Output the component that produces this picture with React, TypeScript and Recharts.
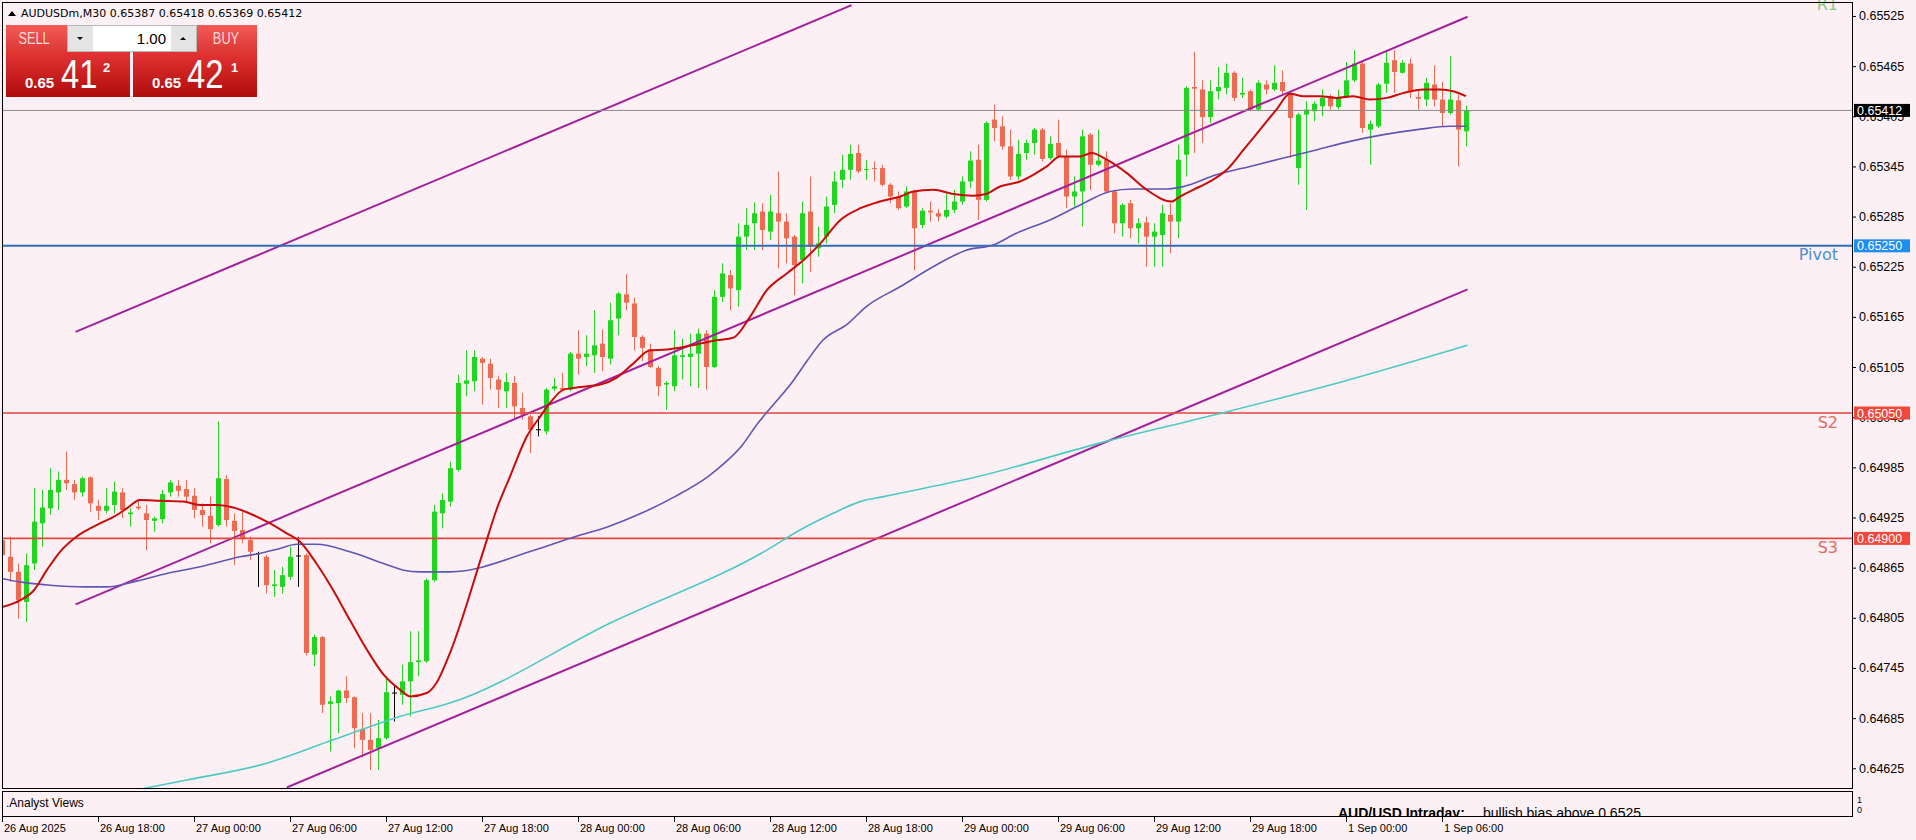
import { ComposedChart, Bar, Line, XAxis, YAxis, ReferenceLine } from "recharts";

const BG = "#fdf0f4";
const UP = "#1fd61f";
const DOWN = "#ee6a50";

// AUDUSDm M30 bars, 26 Aug 12:00 -> 1 Sep 07:30
const opens = [
  0.64898, 0.64878, 0.6486, 0.64824, 0.6487, 0.64918, 0.64936, 0.64955, 0.6497, 0.64965,
  0.64955, 0.64973, 0.64939, 0.64933, 0.6494, 0.64955, 0.64929, 0.64938, 0.6493, 0.64921,
  0.64923, 0.64955, 0.64963, 0.64959, 0.64951, 0.64934, 0.64927, 0.64916, 0.64971, 0.64921,
  0.6491, 0.64898, 0.64882, 0.64878, 0.64843, 0.64842, 0.64854, 0.64879, 0.6488, 0.64761,
  0.64782, 0.64702, 0.64703, 0.64718, 0.6471, 0.64672, 0.64659, 0.64649, 0.64661, 0.64715,
  0.64713, 0.64729, 0.64752, 0.64753, 0.6485, 0.6493, 0.64944, 0.64982, 0.65085, 0.65088,
  0.65115, 0.65109, 0.6509, 0.65076, 0.65086, 0.65056, 0.65046, 0.6503, 0.65028, 0.65079,
  0.6508, 0.65078, 0.65121, 0.65117, 0.65119, 0.65133, 0.65115, 0.65163, 0.65192, 0.65181,
  0.65141, 0.65126, 0.65104, 0.65084, 0.65082, 0.65117, 0.65117, 0.65121, 0.65145, 0.65105,
  0.65189, 0.65215, 0.65197, 0.65261, 0.65277, 0.65291, 0.65267, 0.65289, 0.65279, 0.65261,
  0.65233, 0.65291, 0.65247, 0.65261, 0.65299, 0.65329, 0.65341, 0.65361, 0.65341, 0.65343,
  0.65343, 0.65323, 0.65309, 0.65297, 0.65315, 0.65275, 0.65292, 0.65289, 0.65285, 0.65293,
  0.65303, 0.65327, 0.65353, 0.65305, 0.65401, 0.65393, 0.65369, 0.65333, 0.65361, 0.65373,
  0.65389, 0.65355, 0.65373, 0.65357, 0.65309, 0.65315, 0.65383, 0.65347, 0.65353, 0.65315,
  0.65277, 0.65301, 0.65271, 0.65278, 0.65261, 0.65263, 0.65287, 0.65279, 0.65359, 0.6544,
  0.65437, 0.65404, 0.65435, 0.65439, 0.65457, 0.65431, 0.65435, 0.65413, 0.65443, 0.65437,
  0.65446, 0.65433, 0.65343, 0.65407, 0.65411, 0.65417, 0.65429, 0.65416, 0.65429, 0.65448,
  0.65468, 0.65389, 0.65393, 0.65444, 0.65472, 0.65457, 0.65468, 0.65428, 0.65425, 0.65443,
  0.65425, 0.65409, 0.65424, 0.65387,
];
const highs = [
  0.64902, 0.64902, 0.6487, 0.64882, 0.6496, 0.64958, 0.64984, 0.6498, 0.65004, 0.6497,
  0.64974, 0.64974, 0.64946, 0.6496, 0.64968, 0.6496, 0.64936, 0.64946, 0.6494, 0.64926,
  0.64958, 0.6497, 0.6497, 0.6497, 0.6496, 0.64942, 0.6495, 0.6504, 0.64976, 0.6493,
  0.64932, 0.64902, 0.64884, 0.6488, 0.64862, 0.64866, 0.6489, 0.64902, 0.64882, 0.64785,
  0.64783, 0.64711, 0.64719, 0.64735, 0.64711, 0.64691, 0.64691, 0.64683, 0.64735, 0.64725,
  0.64749, 0.64789, 0.64789, 0.64852, 0.6494, 0.64954, 0.64992, 0.65096, 0.65125, 0.65125,
  0.65117, 0.65115, 0.65094, 0.65098, 0.65094, 0.65074, 0.65048, 0.65046, 0.6508, 0.65092,
  0.65098, 0.65123, 0.65149, 0.65143, 0.65173, 0.6515, 0.65182, 0.65195, 0.65216, 0.65188,
  0.65143, 0.65133, 0.65106, 0.65088, 0.65149, 0.65139, 0.65145, 0.65151, 0.65149, 0.65197,
  0.65229, 0.65221, 0.65277, 0.65295, 0.65302, 0.65301, 0.65311, 0.65339, 0.65289, 0.65263,
  0.65303, 0.65333, 0.65273, 0.65309, 0.65339, 0.65359, 0.65371, 0.65371, 0.65353, 0.65351,
  0.65347, 0.65325, 0.65315, 0.65321, 0.65317, 0.65295, 0.65303, 0.65294, 0.65313, 0.65317,
  0.65333, 0.65363, 0.65371, 0.65399, 0.65419, 0.65405, 0.65389, 0.65377, 0.65377, 0.65391,
  0.65391, 0.65381, 0.65401, 0.65365, 0.65333, 0.65389, 0.65385, 0.65389, 0.65363, 0.65317,
  0.65301, 0.65305, 0.65283, 0.65285, 0.65277, 0.65299, 0.65301, 0.65371, 0.65441, 0.65482,
  0.65448, 0.65448, 0.65464, 0.65468, 0.65459, 0.65451, 0.65437, 0.65448, 0.65448, 0.65466,
  0.6546, 0.65435, 0.65409, 0.65423, 0.65423, 0.65437, 0.65431, 0.65437, 0.6547, 0.65484,
  0.6547, 0.654, 0.65445, 0.65484, 0.65484, 0.65472, 0.65474, 0.65435, 0.65451, 0.65466,
  0.65446, 0.65477, 0.65431, 0.65418,
];
const lows = [
  0.6487, 0.64848, 0.64804, 0.648, 0.64862, 0.6489, 0.64928, 0.64934, 0.64958, 0.64946,
  0.6495, 0.64932, 0.64922, 0.6493, 0.6493, 0.64924, 0.64914, 0.64934, 0.64886, 0.64908,
  0.64918, 0.6495, 0.6495, 0.64942, 0.64924, 0.64914, 0.64894, 0.64914, 0.64914, 0.64868,
  0.64894, 0.64874, 0.64842, 0.64834, 0.6483, 0.64834, 0.6485, 0.64842, 0.6476, 0.64747,
  0.64691, 0.64645, 0.64667, 0.64703, 0.64649, 0.64639, 0.64623, 0.64623, 0.64659, 0.64681,
  0.64701, 0.64687, 0.64735, 0.64751, 0.64848, 0.64912, 0.64938, 0.6498, 0.6507, 0.65076,
  0.6506, 0.65078, 0.65056, 0.65056, 0.65044, 0.65042, 0.65002, 0.65022, 0.65024, 0.65076,
  0.65076, 0.65076, 0.65096, 0.65106, 0.65098, 0.651, 0.65108, 0.65143, 0.65173, 0.65125,
  0.65112, 0.65104, 0.6507, 0.65054, 0.65076, 0.6509, 0.65082, 0.6508, 0.65078, 0.65104,
  0.65183, 0.65173, 0.65177, 0.65245, 0.65245, 0.65245, 0.65257, 0.65223, 0.65229, 0.65191,
  0.65205, 0.65219, 0.65237, 0.65253, 0.65289, 0.65319, 0.65329, 0.65337, 0.65329, 0.65327,
  0.65321, 0.65301, 0.65293, 0.65295, 0.65221, 0.65271, 0.65279, 0.65279, 0.65283, 0.65289,
  0.65299, 0.65319, 0.65281, 0.65303, 0.65375, 0.65365, 0.65329, 0.65329, 0.65353, 0.65359,
  0.65351, 0.65353, 0.65355, 0.65295, 0.65297, 0.65273, 0.65317, 0.65345, 0.65313, 0.65265,
  0.65261, 0.65259, 0.65253, 0.65225, 0.65225, 0.65225, 0.65241, 0.65259, 0.65333, 0.65361,
  0.65373, 0.65397, 0.65425, 0.65431, 0.65423, 0.65427, 0.65411, 0.65411, 0.65431, 0.65435,
  0.65431, 0.65355, 0.65323, 0.65293, 0.65399, 0.65405, 0.65413, 0.65413, 0.65427, 0.65446,
  0.65385, 0.65347, 0.65391, 0.65433, 0.65433, 0.65456, 0.65427, 0.65413, 0.65417, 0.65417,
  0.65393, 0.65407, 0.65345, 0.65369,
];
const closes = [
  0.6488, 0.6486, 0.64826, 0.64868, 0.6492, 0.64937, 0.64958, 0.6497, 0.64966, 0.64955,
  0.64972, 0.64942, 0.64933, 0.64939, 0.64956, 0.64934, 0.64931, 0.64936, 0.64922, 0.64924,
  0.64953, 0.64967, 0.64957, 0.6495, 0.64934, 0.64928, 0.64911, 0.64972, 0.64922, 0.64909,
  0.64899, 0.64884, 0.64882, 0.64844, 0.64845, 0.64856, 0.64878, 0.64879, 0.64763, 0.64782,
  0.64701, 0.64705, 0.64718, 0.64709, 0.64673, 0.64659, 0.64647, 0.64661, 0.64716, 0.64715,
  0.64729, 0.64752, 0.64754, 0.6485, 0.64932, 0.64946, 0.64984, 0.65086, 0.65089, 0.65117,
  0.6511, 0.65092, 0.65078, 0.65087, 0.65058, 0.65048, 0.6503, 0.6503, 0.65078, 0.65082,
  0.65078, 0.65121, 0.65115, 0.65121, 0.65131, 0.65117, 0.65161, 0.65193, 0.65182, 0.65141,
  0.65128, 0.65105, 0.65082, 0.65086, 0.65119, 0.65119, 0.65121, 0.65145, 0.65105, 0.65189,
  0.65217, 0.65199, 0.65261, 0.65275, 0.65289, 0.65269, 0.65291, 0.65279, 0.65259, 0.65227,
  0.65289, 0.65249, 0.65253, 0.65297, 0.65327, 0.65341, 0.6536, 0.65339, 0.65342, 0.65342,
  0.65323, 0.65309, 0.65295, 0.65315, 0.65271, 0.65292, 0.6529, 0.65285, 0.65293, 0.65303,
  0.65327, 0.65352, 0.65305, 0.65397, 0.65391, 0.65369, 0.65333, 0.6536, 0.65373, 0.65389,
  0.65354, 0.65372, 0.65357, 0.65309, 0.65315, 0.65381, 0.65347, 0.65352, 0.65315, 0.65277,
  0.65299, 0.65271, 0.65277, 0.65261, 0.65267, 0.65289, 0.65279, 0.65353, 0.65439, 0.65438,
  0.65404, 0.65435, 0.6544, 0.65457, 0.65427, 0.65433, 0.65413, 0.65445, 0.65437, 0.65445,
  0.65435, 0.65403, 0.65407, 0.65413, 0.6542, 0.65427, 0.65417, 0.65427, 0.65448, 0.65468,
  0.65391, 0.65396, 0.65443, 0.65469, 0.65458, 0.65469, 0.65435, 0.65426, 0.65445, 0.65425,
  0.65409, 0.65425, 0.65389, 0.65412,
];

// moving averages: [bar index, price]
const fastMA = [
  [0, 0.64818], [2.25, 0.64826], [4, 0.64838], [5.6, 0.64862], [7.25, 0.64884], [9.3, 0.64902],
  [12.25, 0.64918], [14, 0.64926], [15.6, 0.64936], [17.25, 0.64946], [19.75, 0.64945], [22.7, 0.64944],
  [24.75, 0.6494], [26.8, 0.6494], [28.9, 0.64937], [31.4, 0.64928], [33.5, 0.64918], [35.6, 0.64906],
  [37.25, 0.64896], [39.3, 0.6487], [41.4, 0.64838], [43.5, 0.64802], [45.6, 0.64767], [47.7, 0.64737],
  [49.75, 0.64719], [51, 0.64711], [53.1, 0.64715], [54.3, 0.64727], [56, 0.64763], [60.2, 0.64886],
  [61.8, 0.64934], [63.5, 0.64974], [65.6, 0.65022], [67.3, 0.65046], [68.5, 0.65062], [70.2, 0.65078],
  [72.3, 0.65081], [74.8, 0.65084], [76.8, 0.65092], [79, 0.6511], [81, 0.65125], [83.1, 0.65126],
  [85.2, 0.65129], [87.3, 0.65133], [89.3, 0.65137], [91.4, 0.6514], [93.5, 0.65165], [95.6, 0.65197],
  [98.1, 0.65217], [100.2, 0.65233], [102.3, 0.65253], [104.8, 0.65281], [107.3, 0.65295], [109.75, 0.65303],
  [112.3, 0.65309], [113.9, 0.65315], [116.4, 0.65317], [118.9, 0.65312], [121.4, 0.6531], [123, 0.65312],
  [124.75, 0.65321], [127.25, 0.65327], [128.9, 0.65335], [130.6, 0.65345], [132.25, 0.65357], [134.75, 0.65357],
  [136.2, 0.65361], [138.1, 0.65353], [140.6, 0.65337], [143.1, 0.65317], [146.2, 0.65303], [147.25, 0.65309],
  [148.9, 0.65317], [151, 0.65327], [153.1, 0.65341], [155.2, 0.65365], [157.25, 0.65389], [159.3, 0.65413],
  [161, 0.65432], [162.7, 0.65429], [164.75, 0.65429], [166.8, 0.65427], [168.9, 0.65429], [171, 0.65425],
  [173.1, 0.65427], [175.2, 0.65433], [177.7, 0.65437], [179.75, 0.65437], [181.4, 0.65435], [183, 0.65429],
];
const midMA = [
  [0, 0.64852], [2.25, 0.64848], [6, 0.64844], [10.4, 0.64842], [13.1, 0.64842], [16.4, 0.64848],
  [20.6, 0.64858], [24.75, 0.64866], [27.25, 0.64872], [29.75, 0.64878], [32.25, 0.64882], [34.75, 0.64888],
  [36.8, 0.64893], [39.3, 0.64893], [43.5, 0.64884], [47.7, 0.6487], [50.2, 0.64862], [52.25, 0.6486],
  [56, 0.6486], [66.6, 0.64886], [71.6, 0.64902], [75.75, 0.64914], [79.9, 0.6493], [84.1, 0.6495],
  [88.25, 0.64974], [90.3, 0.6499], [92.4, 0.6501], [94.5, 0.65038], [96.6, 0.65062], [98.7, 0.65086],
  [100.75, 0.65114], [102.6, 0.65137], [105.75, 0.65157], [108, 0.65177], [112.25, 0.65201], [116.4, 0.65225],
  [120.6, 0.65245], [123.9, 0.65251], [126.8, 0.65265], [131, 0.65281], [135.2, 0.65301], [138.5, 0.65315],
  [141.4, 0.65318], [145.6, 0.65318], [147.7, 0.65321], [151.8, 0.65335], [156, 0.65345], [160.2, 0.65355],
  [164.4, 0.65365], [168.5, 0.65375], [172.7, 0.65383], [176.9, 0.65389], [181, 0.65393], [183, 0.65393],
];
const slowMA = [
  [17.75, 0.64601], [23.1, 0.64611], [33.1, 0.64631], [41.4, 0.64659], [49.75, 0.64687], [56, 0.64703],
  [76.1, 0.64799], [95.6, 0.64886], [99.75, 0.6491], [103.9, 0.6493], [107.25, 0.64944], [110.2, 0.6495],
  [112.25, 0.64954], [122, 0.64974], [137.2, 0.65014], [152.5, 0.6505], [167.75, 0.65088], [183.2, 0.65131],
];

// trend channel end points: [bar index, price]
const channelUpper = [[9.2, 0.65147], [106.2, 0.65538]];
const channelMiddle = [[9.2, 0.64821], [183.2, 0.65524]];
const channelLower = [[35.6, 0.64602], [183.2, 0.65198]];

const levelR1 = 0.6555;
const levelPivot = 0.6525;
const levelS2 = 0.6505;
const levelS3 = 0.649;
const lastPrice = 0.65412;

const timeTicks = [0, 12, 24, 36, 48, 60, 72, 84, 96, 108, 120, 132, 144, 156, 168, 180];
const timeLabels = [
  "26 Aug 2025", "26 Aug 18:00", "27 Aug 00:00", "27 Aug 06:00", "27 Aug 12:00", "27 Aug 18:00",
  "28 Aug 00:00", "28 Aug 06:00", "28 Aug 12:00", "28 Aug 18:00", "29 Aug 00:00", "29 Aug 06:00",
  "29 Aug 12:00", "29 Aug 18:00", "1 Sep 00:00", "1 Sep 06:00",
];
const priceTicks = [
  0.64625, 0.64685, 0.64745, 0.64805, 0.64865, 0.64925, 0.64985, 0.65045,
  0.65105, 0.65165, 0.65225, 0.65285, 0.65345, 0.65405, 0.65465, 0.65525,
];
const markedPrices = [
  { value: 0.649, fill: "#f2473b" },
  { value: 0.6505, fill: "#f2473b" },
  { value: 0.6525, fill: "#1e8ef0" },
  { value: 0.65412, fill: "#000000" },
];

const rows = opens.map((o, i) => ({ i, open: o, high: highs[i], low: lows[i], close: closes[i] }));
const toPts = (arr: number[][]) => arr.map(([i, v]) => ({ i, v }));
const seg = (arr: number[][]) => arr.map(([x, y]) => ({ x, y }));

const FONT = "'Liberation Sans', Arial, sans-serif";

function Candle(props: any) {
  const { x, y, width, height, payload } = props;
  if (x == null || !payload) return null;
  const { open, high, low, close } = payload;
  const top = Math.min(y, y + height);
  const span = Math.abs(height);
  const k = high > low ? span / (high - low) : 0;
  const py = (v: number) => top + (high - v) * k;
  const px = Math.round(x + width / 2);
  const doji = open === close;
  const color = doji ? "#000" : close > open ? UP : DOWN;
  const bt = py(Math.max(open, close));
  const bb = py(Math.min(open, close));
  return (
    <g>
      <line x1={px + 0.5} x2={px + 0.5} y1={top} y2={top + span} stroke={color} strokeWidth={1} />
      {doji ? (
        <line x1={px - 2} x2={px + 3} y1={bt} y2={bt} stroke="#000" strokeWidth={1} />
      ) : (
        <rect x={px - 2} y={bt} width={5} height={Math.max(1, bb - bt)} fill={color} />
      )}
    </g>
  );
}

function TimeTick(props: any) {
  const { x, y, payload } = props;
  const label = timeLabels[timeTicks.indexOf(payload.value)];
  return (
    <g>
      <line x1={x + 0.5} x2={x + 0.5} y1={y + 29} y2={y + 34} stroke="#000" />
      <text x={x + 2} y={y + 44} fontSize={11} fontFamily={FONT} fill="#000">{label}</text>
    </g>
  );
}

function PriceTick(props: any) {
  const { x, y, payload } = props;
  const v = payload.value as number;
  const mark = markedPrices.find((m) => Math.abs(m.value - v) < 1e-7);
  if (mark) {
    return (
      <g>
        <rect x={x + 2} y={y - 6.5} width={56} height={13} fill={mark.fill} />
        <text x={x + 5} y={y + 4.5} fontSize={12.5} fontFamily={FONT} fill="#fff">{v.toFixed(5)}</text>
      </g>
    );
  }
  return (
    <g>
      <line x1={x} x2={x + 4} y1={y + 0.5} y2={y + 0.5} stroke="#000" />
      <text x={x + 7} y={y + 4.5} fontSize={12.5} fontFamily={FONT} fill="#000">{v.toFixed(5)}</text>
    </g>
  );
}

const levelLabel = (text: string, color: string) => (p: any) => {
  const vb = p.viewBox || {};
  return (
    <text x={vb.x + vb.width - 14} y={vb.y + 14.5} textAnchor="end" fontSize={16}
      fontFamily="'DejaVu Sans', sans-serif" fill={color}>{text}</text>
  );
};

export default function App() {
  return (
    <div style={{ position: "absolute", left: 0, top: 0, width: 1916, height: 840, background: BG, overflow: "hidden" }}>
      <ComposedChart width={1916} height={840} data={rows} margin={{ top: 2, right: 0, bottom: 0, left: 3 }}>
        <XAxis dataKey="i" type="number" domain={[0.125, 231.25]} allowDataOverflow ticks={timeTicks}
          interval={0} height={52} tickLine={false} axisLine={false} tickSize={0} tickMargin={0} tick={<TimeTick />} />
        <YAxis orientation="right" type="number" domain={[0.646014, 0.655417]} allowDataOverflow
          ticks={[...priceTicks, ...markedPrices.map((m) => m.value)]} interval={0} width={64}
          tickLine={false} axisLine={false} tickSize={0} tickMargin={0} tick={<PriceTick />} />
        <ReferenceLine segment={seg(channelUpper)} stroke="#a3209d" strokeWidth={2} ifOverflow="hidden" />
        <ReferenceLine segment={seg(channelMiddle)} stroke="#a3209d" strokeWidth={2} ifOverflow="hidden" />
        <ReferenceLine segment={seg(channelLower)} stroke="#a3209d" strokeWidth={2} ifOverflow="hidden" />
        <ReferenceLine y={lastPrice} stroke="#8a8a8a" strokeWidth={1} />
        <ReferenceLine y={levelS3} stroke="#e2463c" strokeWidth={1.6} label={levelLabel("S3", "#e06a66")} />
        <ReferenceLine y={levelS2} stroke="#e2463c" strokeWidth={1.6} label={levelLabel("S2", "#e06a66")} />
        <ReferenceLine y={levelPivot} stroke="#2e6fb4" strokeWidth={2} label={levelLabel("Pivot", "#4a8fd6")} />
        <ReferenceLine y={levelR1} stroke="#6cbf6c" ifOverflow="visible" label={levelLabel("R1", "#86c886")} />
        <Bar dataKey={(d: any) => [d.low, d.high]} barSize={5} shape={<Candle />} isAnimationActive={false} />
        <Line data={toPts(slowMA)} dataKey="v" type="monotone" stroke="#4ccac2" strokeWidth={1.6} dot={false} isAnimationActive={false} />
        <Line data={toPts(midMA)} dataKey="v" type="monotone" stroke="#5f55b3" strokeWidth={1.6} dot={false} isAnimationActive={false} />
        <Line data={toPts(fastMA)} dataKey="v" type="monotone" stroke="#c80c0c" strokeWidth={2} dot={false} isAnimationActive={false} />
      </ComposedChart>

      <svg width={1916} height={840} style={{ position: "absolute", left: 0, top: 0, pointerEvents: "none" }}>
        <defs>
          <linearGradient id="btnGrad" x1="0" y1="0" x2="0" y2="1">
            <stop offset="0" stopColor="#f45a56" />
            <stop offset="1" stopColor="#dc3835" />
          </linearGradient>
          <linearGradient id="pxGrad" x1="0" y1="0" x2="0" y2="1">
            <stop offset="0" stopColor="#e33434" />
            <stop offset="1" stopColor="#b00b0b" />
          </linearGradient>
          <clipPath id="subClip">
            <rect x={3} y={792} width={1849} height={24} />
          </clipPath>
        </defs>

        {/* chart frame and indicator sub-window */}
        <rect x={2.5} y={2.5} width={1850} height={786} fill="none" stroke="#000" />
        <line x1={2.5} x2={1852.5} y1={791.5} y2={791.5} stroke="#000" />
        <line x1={2.5} x2={1852.5} y1={816.5} y2={816.5} stroke="#000" />
        <line x1={2.5} x2={2.5} y1={791} y2={817} stroke="#000" />
        <line x1={1852.5} x2={1852.5} y1={791} y2={817} stroke="#000" />
        <text x={6} y={807} fontSize={12} fontFamily={FONT} fill="#000">.Analyst Views</text>
        <g clipPath="url(#subClip)">
          <text x={1338} y={818} fontSize={14} fontWeight="bold" fontFamily={FONT} fill="#000">AUD/USD Intraday:</text>
          <text x={1483} y={818} fontSize={14} fontFamily={FONT} fill="#000">bullish bias above 0.6525.</text>
        </g>
        <text x={1857} y={803} fontSize={9} fontFamily={FONT} fill="#000">1</text>
        <text x={1857} y={813} fontSize={9} fontFamily={FONT} fill="#000">0</text>

        {/* symbol header */}
        <polygon points="8,16 16,16 12,11" fill="#000" />
        <text x={21} y={17} fontSize={11} fontFamily="'DejaVu Sans', sans-serif" fill="#000">
          AUDUSDm,M30  0.65387 0.65418 0.65369 0.65412
        </text>

        {/* one-click trading panel */}
        <rect x={6} y={25} width={61} height={27} fill="url(#btnGrad)" />
        <text transform="translate(34,44) scale(0.75,1)" textAnchor="middle" fontSize={17} fontFamily={FONT} fill="#ffdcdc">SELL</text>
        <rect x={67.5} y={25.5} width={129} height={26} fill="#fff" stroke="#b8b8b8" />
        <rect x={68} y={26} width={25} height={25} fill="#e4e4e4" />
        <rect x={171} y={26} width={25} height={25} fill="#e4e4e4" />
        <polygon points="77,37 83,37 80,40" fill="#000" />
        <polygon points="180,40 186,40 183,37" fill="#000" />
        <text x={166} y={44} textAnchor="end" fontSize={15} fontFamily={FONT} fill="#000">1.00</text>
        <rect x={197} y={25} width={60} height={27} fill="url(#btnGrad)" />
        <text transform="translate(226,44) scale(0.8,1)" textAnchor="middle" fontSize={16} fontFamily={FONT} fill="#ffdcdc">BUY</text>

        <rect x={6} y={52} width={124} height={45} fill="url(#pxGrad)" />
        <rect x={133} y={52} width={124} height={45} fill="url(#pxGrad)" />
        <text x={25} y={88} fontSize={15} fontWeight="bold" fontFamily={FONT} fill="#fff">0.65</text>
        <text transform="translate(61,88) scale(0.82,1)" fontSize={40} fontFamily={FONT} fill="#fff">41</text>
        <text x={103} y={72} fontSize={13} fontWeight="bold" fontFamily={FONT} fill="#fff">2</text>
        <text x={152} y={88} fontSize={15} fontWeight="bold" fontFamily={FONT} fill="#fff">0.65</text>
        <text transform="translate(187,88) scale(0.82,1)" fontSize={40} fontFamily={FONT} fill="#fff">42</text>
        <text x={231} y={72} fontSize={13} fontWeight="bold" fontFamily={FONT} fill="#fff">1</text>
      </svg>
    </div>
  );
}
